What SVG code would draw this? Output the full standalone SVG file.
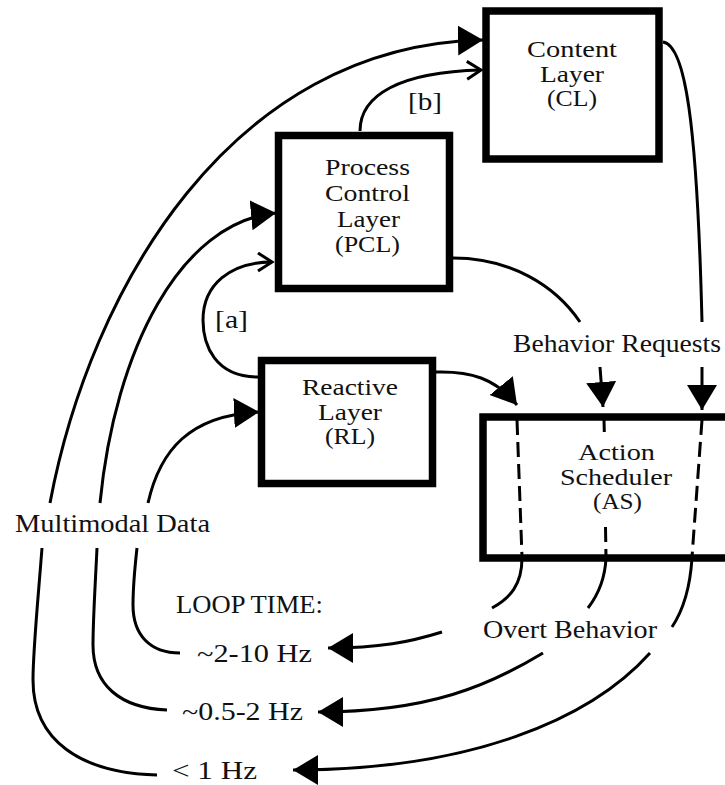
<svg xmlns="http://www.w3.org/2000/svg" width="725" height="785" viewBox="0 0 725 785">
<style>
.box{fill:none;stroke:#000;stroke-width:7.5}
.t{font-family:"Liberation Serif","Times New Roman",serif;font-size:26px;fill:#111}
.n{font-family:"Liberation Serif","Times New Roman",serif;font-size:22.5px;fill:#111}
.c{fill:none;stroke:#000;stroke-width:3}
.d{fill:none;stroke:#000;stroke-width:3;stroke-dasharray:15 7}
.ah{marker-end:url(#solid)}
.oh{marker-end:url(#open)}
</style>
<defs>
<marker id="solid" markerUnits="userSpaceOnUse" markerWidth="26" markerHeight="32" refX="25" refY="15" orient="auto" viewBox="0 0 26 32">
<path d="M0,0 L25,15 L0,30 z" fill="#000"/>
</marker>
<marker id="open" markerUnits="userSpaceOnUse" markerWidth="18" markerHeight="24" refX="15" refY="10" orient="auto" viewBox="0 0 18 24">
<path d="M1,1 L15,10 L1,19" fill="none" stroke="#000" stroke-width="3"/>
</marker>
</defs>
<rect width="725" height="785" fill="#fff"/>
<g id="CL">
<rect class="box" x="486" y="11" width="173" height="148"/>
<text class="n" x="527" y="57" textLength="90" lengthAdjust="spacingAndGlyphs">Content</text>
<text class="n" x="540" y="82" textLength="64" lengthAdjust="spacingAndGlyphs">Layer</text>
<text class="n" x="547" y="106" textLength="50" lengthAdjust="spacingAndGlyphs">(CL)</text>
</g>
<g id="PCL">
<rect class="box" x="278.5" y="135.5" width="171" height="153"/>
<text class="n" x="325" y="175" textLength="85" lengthAdjust="spacingAndGlyphs">Process</text>
<text class="n" x="325" y="201" textLength="85" lengthAdjust="spacingAndGlyphs">Control</text>
<text class="n" x="337" y="227" textLength="63" lengthAdjust="spacingAndGlyphs">Layer</text>
<text class="n" x="335" y="252" textLength="65" lengthAdjust="spacingAndGlyphs">(PCL)</text>
</g>
<g id="RL">
<rect class="box" x="261.5" y="360.5" width="171" height="123"/>
<text class="n" x="302" y="395" textLength="96" lengthAdjust="spacingAndGlyphs">Reactive</text>
<text class="n" x="318" y="420" textLength="64" lengthAdjust="spacingAndGlyphs">Layer</text>
<text class="n" x="325" y="444" textLength="50" lengthAdjust="spacingAndGlyphs">(RL)</text>
</g>
<g id="AS">
<rect class="box" x="483" y="417" width="300" height="141"/>
<text class="n" x="578" y="460" textLength="77" lengthAdjust="spacingAndGlyphs">Action</text>
<text class="n" x="560" y="485" textLength="112" lengthAdjust="spacingAndGlyphs">Scheduler</text>
<text class="n" x="593" y="509" textLength="49" lengthAdjust="spacingAndGlyphs">(AS)</text>
</g>
<g id="labels">
<text class="t" x="408" y="110" textLength="34" lengthAdjust="spacingAndGlyphs">[b]</text>
<text class="t" x="215" y="328" textLength="33" lengthAdjust="spacingAndGlyphs">[a]</text>
<text class="t" x="513" y="352" textLength="208" lengthAdjust="spacingAndGlyphs">Behavior Requests</text>
<text class="t" x="15" y="532" textLength="195" lengthAdjust="spacingAndGlyphs">Multimodal Data</text>
<text class="t" x="176" y="613" textLength="147" lengthAdjust="spacingAndGlyphs">LOOP TIME:</text>
<text class="t" x="197" y="662" textLength="115" lengthAdjust="spacingAndGlyphs">~2-10 Hz</text>
<text class="t" x="182" y="720" textLength="121" lengthAdjust="spacingAndGlyphs">~0.5-2 Hz</text>
<text class="t" x="172" y="779" textLength="85" lengthAdjust="spacingAndGlyphs">&lt; 1 Hz</text>
<text class="t" x="483" y="638" textLength="174" lengthAdjust="spacingAndGlyphs">Overt Behavior</text>
</g>
<g id="connectors">
<!-- inputs from the left -->
<path class="c ah" d="M157,775 C80,773 33,740 33,680 C33,650 38,600 42,548 M50,503 C90,290 230,45 483,40"/>
<path class="c ah" d="M167,710 C120,708 93,685 93,645 C93,620 95,590 97,548 M100,503 C115,350 180,222 276,213"/>
<path class="c ah" d="M180,653 C150,653 133,635 133,605 C133,595 134,575 137,548 M148,503 C160,450 190,415 259,412"/>
<!-- [a] and [b] -->
<path class="c oh" d="M258,377 C215,377 203,345 203,320 C203,285 230,262 272,262"/>
<path class="c oh" d="M360,131 C360,95 400,72 481,70"/>
<!-- behavior requests -->
<path class="c ah" d="M436,372 C470,371 495,378 517,405"/>
<path class="c" d="M453,258 C510,258 555,285 580,322"/>
<path class="c" d="M663,42 C685,45 697,120 702,322"/>
<path class="c ah" d="M600,367 L603,407"/>
<path class="c ah" d="M702,367 L702,410"/>
<!-- through the action scheduler -->
<path class="d" d="M517,420 L522,557"/>
<path class="d" d="M604,420 L604.3,432 M605.5,527 L606,557"/>
<path class="d" d="M702,420 L692,557"/>
<!-- overt behavior outputs -->
<path class="c ah" d="M522,558 C522,585 510,598 492,608 M442,632 C410,642 380,648 328,648"/>
<path class="c ah" d="M606,558 C605,580 598,595 588,608 M543,653 C490,685 430,712 318,712"/>
<path class="c ah" d="M692,558 C690,590 682,612 672,627 M650,653 C590,720 470,770 293,770"/>
</g>
</svg>
